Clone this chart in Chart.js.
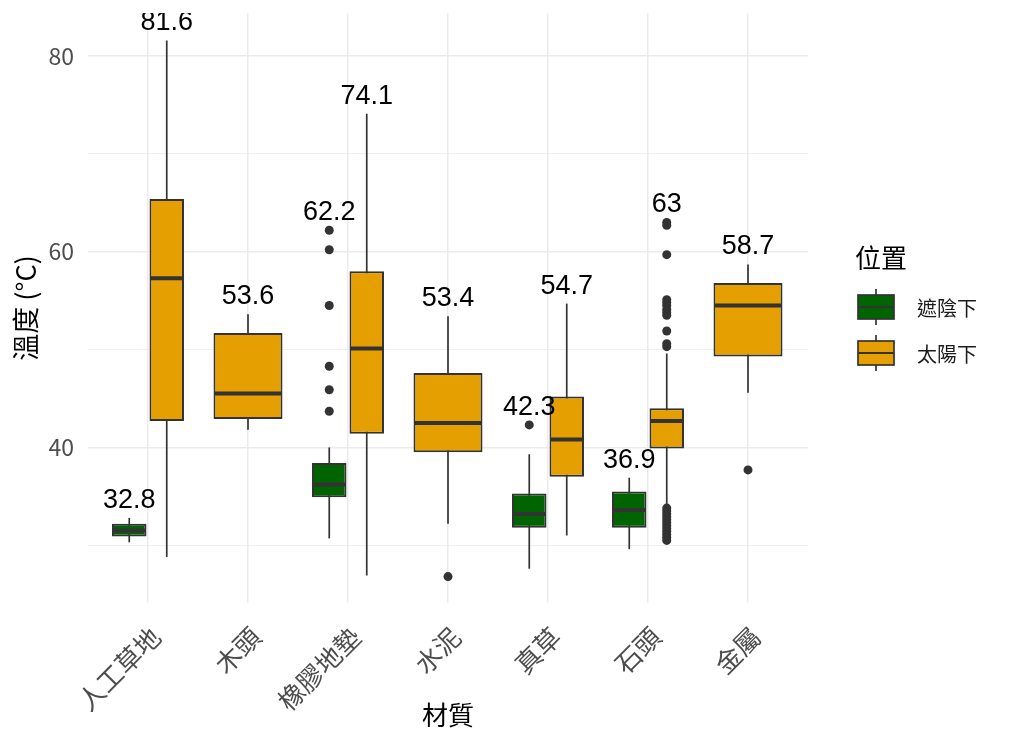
<!DOCTYPE html>
<html lang="zh-Hant">
<head>
<meta charset="UTF-8">
<title>溫度 - 材質</title>
<script src="https://cdn.jsdelivr.net/npm/chart.js"></script>
<style>
    html, body { margin: 0; padding: 0; background: #ffffff; }
    #wrap { width: 1010px; height: 746px; position: relative; }
</style>
</head>
<body>
<div id="wrap"><canvas id="grafico"></canvas></div>

<script>
// categorías (eje x)
const categories = ['人工草地', '木頭', '橡膠地墊', '水泥', '真草', '石頭', '金屬'];
const seriesNames = ['遮陰下', '太陽下'];

// 遮陰下: bigotes, cuartiles, mediana
const shadeLo  = [30.3, null, 30.7, null, 27.6, 29.6, null];
const shadeQ1  = [30.9, null, 34.9, null, 31.8, 31.8, null];
const shadeMed = [31.5, null, 36.2, null, 33.2, 33.6, null];
const shadeQ3  = [32.2, null, 38.4, null, 35.3, 35.5, null];
const shadeHi  = [32.8, null, 40.0, null, 39.3, 36.9, null];
const shadeOut = [[], [], [43.7, 45.9, 48.3, 54.5, 60.2, 62.2], [], [42.3], [], []];

// 太陽下
const sunLo  = [28.8, 41.8, 26.9, 32.2, 31.0, 34.1, 45.6];
const sunQ1  = [42.7, 42.9, 41.4, 39.5, 37.0, 39.9, 49.3];
const sunMed = [57.3, 45.5, 50.1, 42.5, 40.8, 42.7, 54.5];
const sunQ3  = [65.4, 51.7, 58.0, 47.6, 45.2, 44.0, 56.8];
const sunHi  = [81.6, 53.6, 74.1, 53.4, 54.7, 49.6, 58.7];
const sunOut = [[], [], [], [26.8], [],
    [63.0, 62.7, 59.7, 55.1, 54.8, 54.5, 54.1, 53.8, 53.5, 51.9, 50.6, 50.3,
     33.8, 33.5, 33.2, 32.9, 32.6, 32.3, 32.0, 31.7, 31.4, 31.1, 30.8, 30.5],
    [37.7]];

// ticks del eje y
const yTicks = [40, 60, 80];

const colores = ['#006400', '#E69F00'];
const borde = '#333333';
const cjk = "'Noto Sans CJK TC', 'Noto Sans', sans-serif";
const latin = "'Liberation Sans', Arial, sans-serif";

const grupos = [
    { lo: shadeLo, q1: shadeQ1, med: shadeMed, q3: shadeQ3, hi: shadeHi, out: shadeOut },
    { lo: sunLo, q1: sunQ1, med: sunMed, q3: sunQ3, hi: sunHi, out: sunOut }
];

// bigotes, medianas, atípicos y etiquetas
const partesCaja = {
    id: 'partesCaja',
    beforeDatasetsDraw(chart) {
        const ctx = chart.ctx;
        const y = chart.scales.y;
        ctx.save();
        ctx.strokeStyle = borde;
        ctx.lineWidth = 1.7;
        grupos.forEach((g, d) => {
            chart.getDatasetMeta(d).data.forEach((bar, i) => {
                if (g.q1[i] == null) return;
                ctx.beginPath();
                ctx.moveTo(bar.x, y.getPixelForValue(g.lo[i]));
                ctx.lineTo(bar.x, y.getPixelForValue(g.hi[i]));
                ctx.stroke();
            });
        });
        ctx.restore();
    },
    afterDatasetsDraw(chart) {
        const ctx = chart.ctx;
        const y = chart.scales.y;
        const area = chart.chartArea;
        ctx.save();
        grupos.forEach((g, d) => {
            chart.getDatasetMeta(d).data.forEach((bar, i) => {
                if (g.q1[i] == null) return;
                const half = bar.width / 2;
                // mediana
                ctx.strokeStyle = borde;
                ctx.lineWidth = 4;
                ctx.beginPath();
                ctx.moveTo(bar.x - half + 1, y.getPixelForValue(g.med[i]));
                ctx.lineTo(bar.x + half - 1, y.getPixelForValue(g.med[i]));
                ctx.stroke();
                // atípicos
                ctx.fillStyle = borde;
                g.out[i].forEach(v => {
                    ctx.beginPath();
                    ctx.arc(bar.x, y.getPixelForValue(v), 4.5, 0, Math.PI * 2);
                    ctx.fill();
                });
            });
        });
        // etiquetas con el máximo
        ctx.beginPath();
        ctx.rect(area.left, area.top, area.right - area.left, area.bottom - area.top);
        ctx.clip();
        ctx.fillStyle = '#000000';
        ctx.font = '27px ' + latin;
        ctx.textAlign = 'center';
        ctx.textBaseline = 'alphabetic';
        grupos.forEach((g, d) => {
            chart.getDatasetMeta(d).data.forEach((bar, i) => {
                if (g.q1[i] == null) return;
                const maximo = Math.max(g.hi[i], ...g.out[i]);
                ctx.fillText(String(maximo), bar.x, y.getPixelForValue(maximo) - 10);
            });
        });
        ctx.restore();
    }
};

// leyenda dibujada a la derecha del área del gráfico
const leyenda = {
    id: 'leyenda',
    afterDraw(chart) {
        const ctx = chart.ctx;
        const x0 = chart.chartArea.right + 47;
        ctx.save();
        ctx.fillStyle = '#000000';
        ctx.font = '26px ' + cjk;
        ctx.textAlign = 'left';
        ctx.textBaseline = 'middle';
        ctx.fillText('位置', x0, 258);
        seriesNames.forEach((n, d) => {
            const cy = 307 + 46 * d;
            const kx = x0 + 3;
            ctx.strokeStyle = borde;
            ctx.lineWidth = 1.7;
            ctx.beginPath();
            ctx.moveTo(kx + 18, cy - 18); ctx.lineTo(kx + 18, cy + 18);
            ctx.stroke();
            ctx.fillStyle = colores[d];
            ctx.fillRect(kx, cy - 12, 36, 24);
            ctx.strokeRect(kx, cy - 12, 36, 24);
            ctx.lineWidth = 2.2;
            ctx.beginPath();
            ctx.moveTo(kx, cy); ctx.lineTo(kx + 36, cy);
            ctx.stroke();
            ctx.fillStyle = '#1a1a1a';
            ctx.font = '20px ' + cjk;
            ctx.fillText(n, x0 + 62, cy + 1);
        });
        ctx.restore();
    }
};

function datosCaja(g) {
    return categories.map((c, i) => ({ x: i + 1, y: g.q1[i] == null ? null : [g.q1[i], g.q3[i]] }));
}

new Chart(document.getElementById('grafico'), {
    type: 'bar',
    data: {
        datasets: grupos.map((g, d) => ({
            label: seriesNames[d],
            data: datosCaja(g),
            backgroundColor: colores[d],
            borderColor: borde,
            borderWidth: 2,
            borderSkipped: false
        }))
    },
    options: {
        responsive: true,
        maintainAspectRatio: false,
        animation: false,
        skipNull: true,
        categoryPercentage: 0.75,
        barPercentage: 0.92,
        layout: { padding: { top: 13, right: 202, left: 0, bottom: 0 } },
        plugins: {
            tooltip: { enabled: false },
            legend: { display: false }
        },
        scales: {
            x: {
                type: 'linear',
                min: 0.4,
                max: 7.6,
                offset: false,
                afterBuildTicks: axis => { axis.ticks = axis.ticks.filter(t => Number.isInteger(t.value)); },
                afterFit: axis => {
                    axis.height = 143;
                    axis.paddingLeft = 0;
                    axis.paddingRight = 0;
                },
                ticks: {
                    stepSize: 1,
                    autoSkip: false,
                    minRotation: 45,
                    maxRotation: 45,
                    padding: 18,
                    labelOffset: 8,
                    color: '#4d4d4d',
                    font: { family: cjk, size: 26 },
                    callback: v => categories[v - 1]
                },
                grid: { color: '#ebebeb', lineWidth: 1.5, drawTicks: false, offset: false },
                border: { display: false },
                title: {
                    display: true,
                    text: '材質',
                    color: '#000000',
                    font: { family: cjk, size: 26 },
                    padding: { top: 0, bottom: 15.4 }
                }
            },
            y: {
                min: 24.1,
                max: 84.4,
                afterBuildTicks: axis => { axis.ticks = axis.ticks.filter(t => t.value % 10 === 0); },
                afterFit: axis => {
                    axis.width = 88;
                    axis.paddingTop = 0;
                    axis.paddingBottom = 0;
                },
                ticks: {
                    stepSize: 10,
                    padding: 14,
                    color: '#4d4d4d',
                    font: { family: cjk, size: 23 },
                    callback: v => yTicks.includes(v) ? v : ''
                },
                grid: {
                    color: '#ebebeb',
                    lineWidth: c => (c.tick && yTicks.includes(c.tick.value)) ? 1.5 : 0.8,
                    drawTicks: false
                },
                border: { display: false },
                title: {
                    display: true,
                    text: '溫度 (°C)',
                    color: '#000000',
                    font: { family: cjk, size: 27 },
                    padding: { top: 9.8, bottom: 0 }
                }
            }
        }
    },
    plugins: [partesCaja, leyenda]
});
</script>
</body>
</html>
